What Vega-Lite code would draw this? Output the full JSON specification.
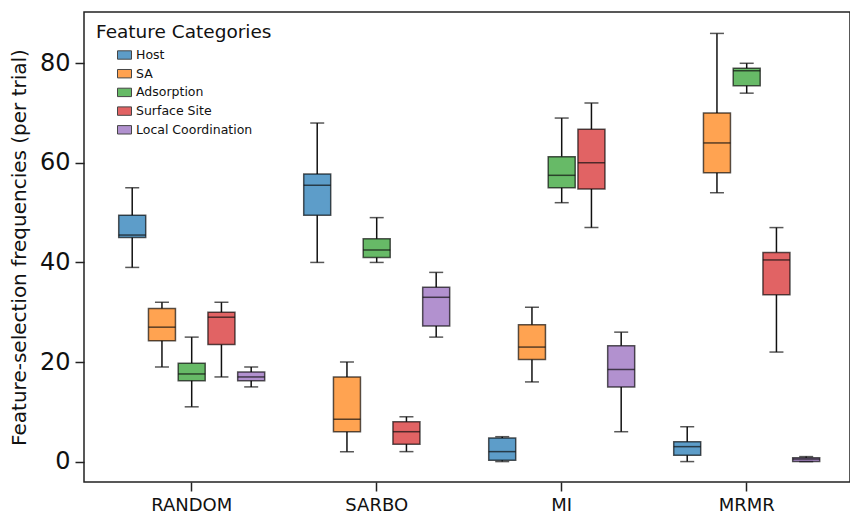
{
  "$schema": "https://vega.github.io/schema/vega-lite/v6.json",
  "width": 766,
  "height": 470,
  "autosize": "none",
  "padding": {"left": 84, "top": 12, "right": 0, "bottom": 32},
  "background": "white",
  "config": {
    "font": "DejaVu Sans",
    "view": {"stroke": "#222", "strokeWidth": 1.5},
    "axis": {"grid": false, "domain": false, "tickColor": "#222", "tickWidth": 1.5, "tickSize": 9, "labelColor": "#111", "titleColor": "#111", "labelFont": "DejaVu Sans", "titleFont": "DejaVu Sans", "titleFontWeight": "normal"}
  },
  "data": {
    "values": [
      {"method": "RANDOM", "category": "Host", "min": 39, "q1": 45, "median": 45.5, "q3": 49.5, "max": 55},
      {"method": "RANDOM", "category": "SA", "min": 19, "q1": 24.25, "median": 27, "q3": 30.75, "max": 32},
      {"method": "RANDOM", "category": "Adsorption", "min": 11, "q1": 16.25, "median": 17.6, "q3": 19.75, "max": 25},
      {"method": "RANDOM", "category": "Surface Site", "min": 17, "q1": 23.5, "median": 29, "q3": 30, "max": 32},
      {"method": "RANDOM", "category": "Local Coordination", "min": 15, "q1": 16.25, "median": 17, "q3": 18, "max": 19},
      {"method": "SARBO", "category": "Host", "min": 40, "q1": 49.5, "median": 55.5, "q3": 57.75, "max": 68},
      {"method": "SARBO", "category": "SA", "min": 2, "q1": 6, "median": 8.5, "q3": 17, "max": 20},
      {"method": "SARBO", "category": "Adsorption", "min": 40, "q1": 41, "median": 42.5, "q3": 44.75, "max": 49},
      {"method": "SARBO", "category": "Surface Site", "min": 2, "q1": 3.5, "median": 6, "q3": 8, "max": 9},
      {"method": "SARBO", "category": "Local Coordination", "min": 25, "q1": 27.25, "median": 33, "q3": 35, "max": 38},
      {"method": "MI", "category": "Host", "min": 0, "q1": 0.25, "median": 2, "q3": 4.75, "max": 5},
      {"method": "MI", "category": "SA", "min": 16, "q1": 20.5, "median": 23, "q3": 27.5, "max": 31},
      {"method": "MI", "category": "Adsorption", "min": 52, "q1": 55, "median": 57.5, "q3": 61.25, "max": 69},
      {"method": "MI", "category": "Surface Site", "min": 47, "q1": 54.75, "median": 60, "q3": 66.75, "max": 72},
      {"method": "MI", "category": "Local Coordination", "min": 6, "q1": 15, "median": 18.5, "q3": 23.25, "max": 26},
      {"method": "MRMR", "category": "Host", "min": 0, "q1": 1.25, "median": 3, "q3": 4, "max": 7},
      {"method": "MRMR", "category": "SA", "min": 54, "q1": 58, "median": 64, "q3": 70, "max": 86},
      {"method": "MRMR", "category": "Adsorption", "min": 74, "q1": 75.5, "median": 78.5, "q3": 79, "max": 80},
      {"method": "MRMR", "category": "Surface Site", "min": 22, "q1": 33.5, "median": 40.5, "q3": 42, "max": 47},
      {"method": "MRMR", "category": "Local Coordination", "min": 0, "q1": 0, "median": 0.5, "q3": 0.75, "max": 1}
    ]
  },
  "encoding": {
    "x": {
      "field": "method", "type": "nominal", "sort": ["RANDOM", "SARBO", "MI", "MRMR"],
      "scale": {"range": [15.2, 755.2], "paddingInner": 0, "paddingOuter": 0},
      "axis": {"title": null, "labelAngle": 0, "labelFontSize": 18, "labelPadding": 5}
    },
    "xOffset": {
      "field": "category", "type": "nominal",
      "sort": ["Host", "SA", "Adsorption", "Surface Site", "Local Coordination"],
      "scale": {"paddingInner": 0.092, "paddingOuter": 0.656}
    }
  },
  "layer": [
    {
      "mark": {"type": "rule", "color": "#111", "strokeWidth": 1.5},
      "encoding": {
        "y": {"field": "min", "type": "quantitative", "scale": {"domain": [-4.1, 90.3], "nice": false, "zero": false},
          "axis": {"values": [0, 20, 40, 60, 80], "labelFontSize": 24, "labelPadding": 5, "title": "Feature-selection frequencies (per trial)", "titleFontSize": 20, "titlePadding": 10}},
        "y2": {"field": "q1"}
      }
    },
    {
      "mark": {"type": "rule", "color": "#111", "strokeWidth": 1.5},
      "encoding": {"y": {"field": "q3", "type": "quantitative"}, "y2": {"field": "max"}}
    },
    {
      "mark": {"type": "tick", "color": "#111", "thickness": 1.5, "size": 14, "orient": "horizontal"},
      "encoding": {"y": {"field": "min", "type": "quantitative"}}
    },
    {
      "mark": {"type": "tick", "color": "#111", "thickness": 1.5, "size": 14, "orient": "horizontal"},
      "encoding": {"y": {"field": "max", "type": "quantitative"}}
    },
    {
      "mark": {"type": "bar", "fillOpacity": 0.72, "stroke": "#000", "strokeOpacity": 0.65, "strokeWidth": 1.5},
      "encoding": {
        "y": {"field": "q1", "type": "quantitative"},
        "y2": {"field": "q3"},
        "color": {
          "field": "category", "type": "nominal",
          "sort": ["Host", "SA", "Adsorption", "Surface Site", "Local Coordination"],
          "scale": {"domain": ["Host", "SA", "Adsorption", "Surface Site", "Local Coordination"], "range": ["#1f77b4", "#ff7f0e", "#2ca02c", "#d62728", "#9467bd"]},
          "legend": {
            "title": "Feature Categories", "orient": "none", "legendX": 12, "legendY": 11,
            "titleFontSize": 18.5, "titleFontWeight": "normal", "titleColor": "#111", "titlePadding": 6,
            "labelFontSize": 12.5, "labelColor": "#111", "labelOffset": 4,
            "symbolType": "M-1,-0.6H1V0.6H-1Z", "symbolSize": 196, "symbolOffset": 21,
            "symbolOpacity": 0.72, "symbolStrokeWidth": 1, "rowPadding": 4.7
          }
        }
      }
    },
    {
      "mark": {"type": "tick", "color": "#111", "thickness": 1.5, "size": 27, "orient": "horizontal"},
      "encoding": {"y": {"field": "median", "type": "quantitative"}}
    }
  ]
}
